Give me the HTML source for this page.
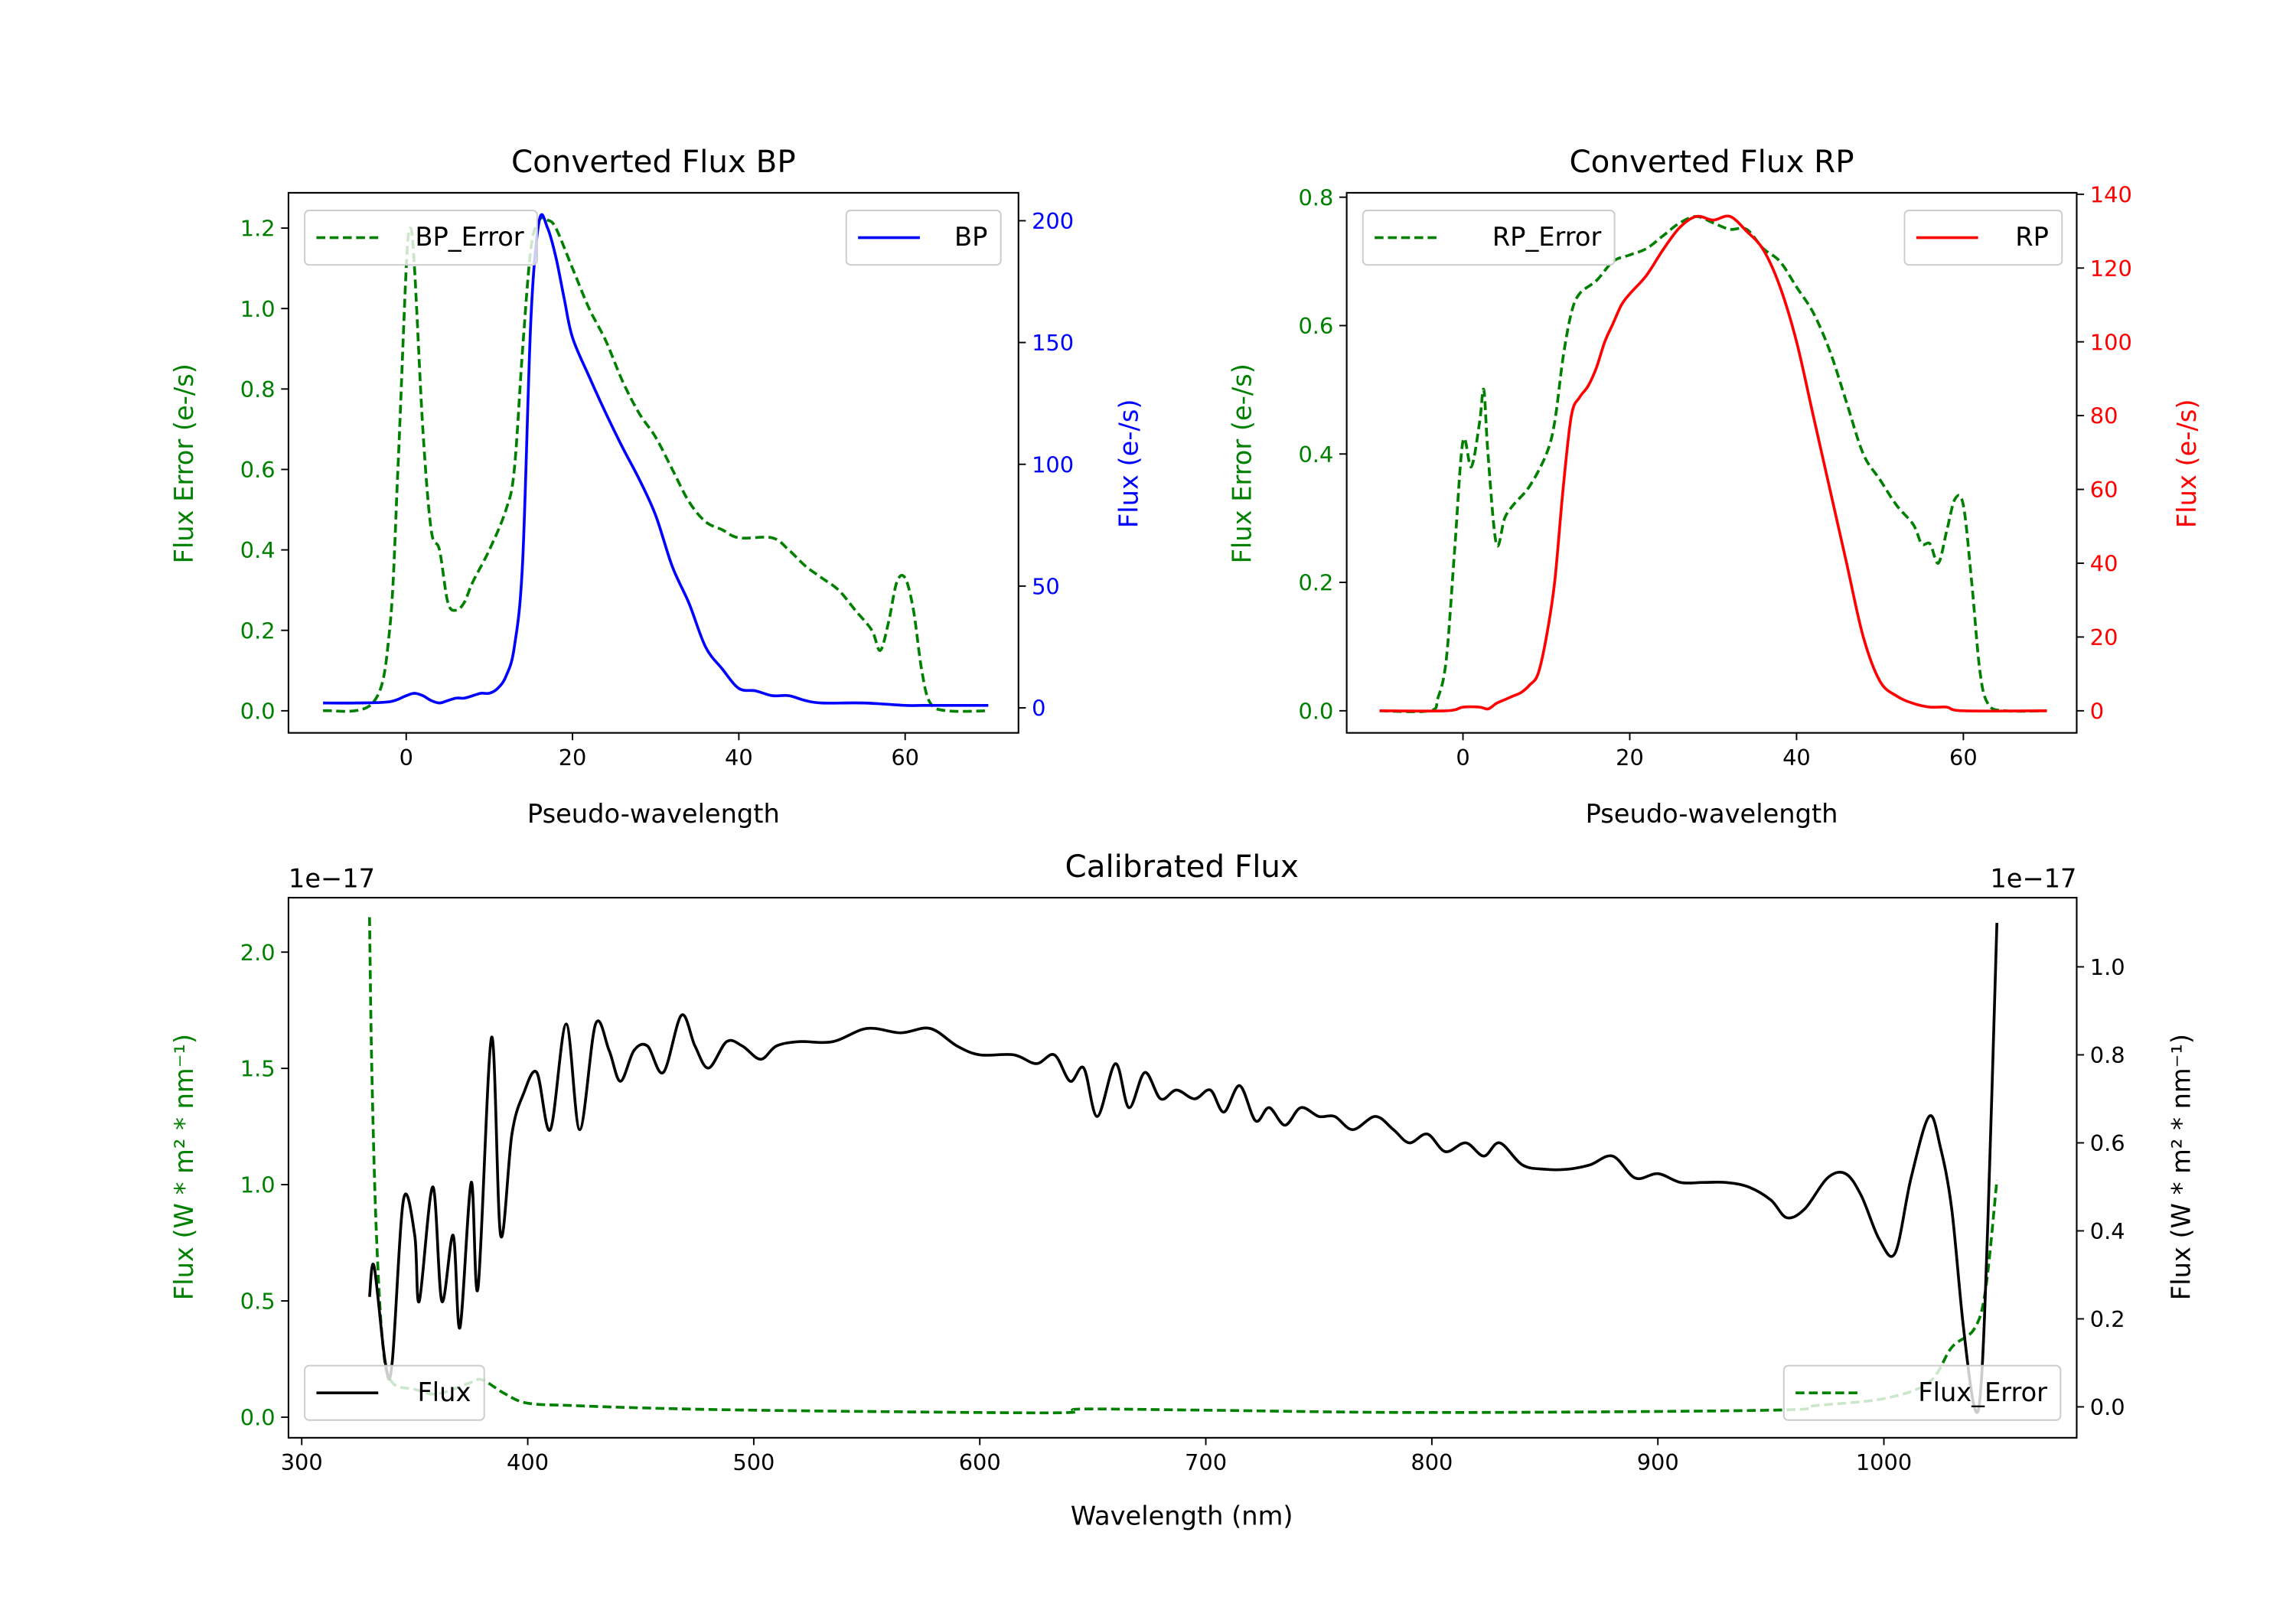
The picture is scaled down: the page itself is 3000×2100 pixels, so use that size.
<!DOCTYPE html>
<html><head><meta charset="utf-8"><style>
html,body{margin:0;padding:0;background:#fff}
svg{display:block;font-family:"DejaVu Sans","Liberation Sans",sans-serif}
</style></head><body>
<svg id="fig" width="3000" height="2100" viewBox="0 0 1560 1092" xmlns="http://www.w3.org/2000/svg"></svg>
<script>
// ---- data ----
const bpX=[-10,-6,-2,0,1,2,3,4,5,6,7,8,9,10,11,12,13,14,15,16,17,18,19,20,22,24,26,28,30,32,34,36,38,40,42,44,46,48,50,55,60,62,65,70];
const bpFlux=[2,2,2.5,5,6,5,3,2,3,4,4,5,6,6,8,13,25,60,160,200,197,185,168,152,136,121,107,94,79,58,43,25,16,8,7,5,5,3,2,2,1,1,1,1];
const bpErrX=[-10,-4,-2,-1,0,0.5,1,2,3,4,5,6,7,8,10,12,13,14,15,16,17,18,20,22,24,26,28,30,32,34,36,38,40,44,46,48,50,52,54,56,57,58,59,60,61,62,63,65,70];
const bpErr=[0,0.02,0.2,0.6,1.1,1.2,1.1,0.7,0.45,0.4,0.27,0.25,0.27,0.32,0.4,0.5,0.6,0.9,1.15,1.22,1.22,1.2,1.1,1.0,0.92,0.82,0.74,0.68,0.6,0.52,0.47,0.45,0.43,0.43,0.4,0.36,0.33,0.3,0.25,0.2,0.15,0.22,0.32,0.33,0.25,0.1,0.02,0,0];
const rpX=[-10,-2,0,2,3,4,5,6,7,8,9,10,11,12,13,14,15,16,17,18,19,20,22,24,26,28,30,32,34,36,38,40,42,44,46,48,50,52,54,56,58,60,70];
const rpFlux=[0,0,1,1,0.5,2,3,4,5,7,10,20,35,60,80,85,88,93,100,105,110,113,118,125,131,134,133,134,130,125,115,100,80,60,40,20,8,4,2,1,1,0,0];
const rpErrX=[-10,-4,-3,-2,-1,0,1,2,2.5,3,4,5,6,8,10,11,12,13,14,16,18,20,22,24,26,28,30,32,34,36,38,40,42,44,46,48,50,52,54,55,56,57,58,59,60,61,62,63,65,70];
const rpErr=[0,0,0.02,0.08,0.25,0.42,0.38,0.45,0.5,0.4,0.26,0.3,0.32,0.35,0.4,0.45,0.55,0.62,0.65,0.67,0.7,0.71,0.72,0.74,0.76,0.77,0.76,0.75,0.75,0.72,0.7,0.66,0.62,0.56,0.48,0.4,0.36,0.32,0.29,0.26,0.26,0.23,0.28,0.33,0.32,0.2,0.06,0.01,0,0];
const calX=[330,332,337,340,345,350,352,358,362,367,370,375,378,384,388,393,398,404,410,417,423,430,436,441,447,453,460,468,474,480,488,495,503,510,520,535,550,565,578,590,600,615,625,633,640,646,652,660,666,673,680,687,695,702,708,715,722,728,735,742,750,757,765,775,783,790,798,806,815,823,830,840,850,860,870,880,890,900,910,920,930,940,950,957,965,975,983,990,998,1005,1012,1020,1025,1030,1035,1040,1043,1046,1050];
const calFlux=[0.25,0.32,0.1,0.1,0.47,0.39,0.24,0.5,0.24,0.39,0.18,0.51,0.27,0.84,0.39,0.62,0.71,0.76,0.63,0.87,0.63,0.87,0.81,0.74,0.81,0.82,0.76,0.89,0.82,0.77,0.83,0.82,0.79,0.82,0.83,0.83,0.86,0.85,0.86,0.82,0.80,0.80,0.78,0.80,0.74,0.77,0.66,0.78,0.68,0.76,0.70,0.72,0.70,0.72,0.67,0.73,0.65,0.68,0.64,0.68,0.66,0.66,0.63,0.66,0.63,0.60,0.62,0.58,0.60,0.57,0.60,0.55,0.54,0.54,0.55,0.57,0.52,0.53,0.51,0.51,0.51,0.50,0.47,0.43,0.45,0.52,0.53,0.48,0.38,0.35,0.52,0.66,0.59,0.45,0.19,0.0,0.05,0.42,1.1];
const calErrX=[330,331,333,336,340,350,360,375,380,390,400,420,450,500,600,640,645,700,800,950,970,1000,1020,1030,1040,1045,1050];
const calErr=[2.15,1.5,0.8,0.3,0.15,0.12,0.1,0.15,0.16,0.1,0.06,0.05,0.04,0.03,0.02,0.02,0.035,0.03,0.02,0.03,0.05,0.08,0.15,0.3,0.38,0.55,1.02];
const pxTicks=[0,20,40,60];
const bpErrTicks=[0,0.2,0.4,0.6,0.8,1.0,1.2];
const bpFluxTicks=[0,50,100,150,200];
const rpErrTicks=[0,0.2,0.4,0.6,0.8];
const rpFluxTicks=[0,20,40,60,80,100,120,140];
const wlTicks=[300,400,500,600,700,800,900,1000];
const calErrTicks=[0,0.5,1.0,1.5,2.0];
const calFluxTicks=[0,0.2,0.4,0.6,0.8,1.0];

const NS="http://www.w3.org/2000/svg";
const svg=document.getElementById('fig');
const TF=15;
function el(tag,attrs,parent,txt){const e=document.createElementNS(NS,tag);for(const k in attrs)e.setAttribute(k,attrs[k]);if(txt!==undefined)e.textContent=txt;(parent||svg).appendChild(e);return e;}
function lin(d0,d1,r0,r1){return v=>r0+(v-d0)*(r1-r0)/(d1-d0);}
function line(xs,ys,sx,sy,color,dash,name,g){
  const P=xs.map((x,i)=>[sx(x),sy(ys[i])]);
  let d='M'+P[0][0].toFixed(2)+','+P[0][1].toFixed(2);
  for(let i=0;i<P.length-1;i++){
    const p0=P[Math.max(0,i-1)],p1=P[i],p2=P[i+1],p3=P[Math.min(P.length-1,i+2)];
    const t=0.5/3;
    const c1=[p1[0]+(p2[0]-p0[0])*t,p1[1]+(p2[1]-p0[1])*t];
    const c2=[p2[0]-(p3[0]-p1[0])*t,p2[1]-(p3[1]-p1[1])*t];
    d+=`C${c1[0].toFixed(2)},${c1[1].toFixed(2)} ${c2[0].toFixed(2)},${c2[1].toFixed(2)} ${p2[0].toFixed(2)},${p2[1].toFixed(2)}`;
  }
  const e=el('path',{d:d,fill:'none',stroke:color,'stroke-width':1.9,'stroke-linejoin':'round','stroke-dasharray':dash?'6,3':'none'},g);
  
  
}
function xaxis(ticks,sx,y,g,fmt){ticks.forEach(t=>{const x=sx(t);el('line',{x1:x,x2:x,y1:y,y2:y+5,stroke:'#000','stroke-width':1},g);el('text',{x:x,y:y+22,'text-anchor':'middle','font-size':TF},g,fmt?fmt(t):t);});}
function yaxis(ticks,sy,x,side,color,g,fmt){ticks.forEach(t=>{const y=sy(t);const d=side<0?-5:5;el('line',{x1:x,x2:x+d,y1:y,y2:y,stroke:'#000','stroke-width':1},g);el('text',{x:x+(side<0?-9:9),y:y+5.5,'text-anchor':side<0?'end':'start','font-size':TF,fill:color},g,fmt?fmt(t):t);});}
function frame(x0,y0,x1,y1,g){el('rect',{x:x0,y:y0,width:x1-x0,height:y1-y0,fill:'none',stroke:'#000','stroke-width':1.1},g);}
function legend(x,y,w,label,color,dash,name,g){
  const lg=el('g',{},g);
  el('rect',{x:x,y:y,width:w,height:37,rx:3,fill:'rgba(255,255,255,0.8)',stroke:'#ccc'},lg);
  el('line',{x1:x+8,x2:x+50,y1:y+18.5,y2:y+18.5,stroke:color,'stroke-width':1.9,'stroke-dasharray':dash?'6,3':'none'},lg);
  el('text',{x:x+w-9,y:y+24,'text-anchor':'end','font-size':17.5},lg,label);
}
function vlabel(x,y,txt,color,g){el('text',{x:x,y:y,'text-anchor':'middle','font-size':17.5,fill:color,transform:`rotate(-90 ${x} ${y})`},g,txt);}
const f1=v=>v.toFixed(1);

// ---- BP panel ----
{const g=el('g',{});
const sx=lin(0,60,276,615), sy=lin(0,1.2,483,155), sy2=lin(0,200,481,150);
line(bpErrX,bpErr,sx,sy,'#008000',true,'bp-error-line',g);
line(bpX,bpFlux,sx,sy2,'#0000ff',false,'bp-flux-line',g);
frame(196,131,692,498,g);
xaxis(pxTicks,sx,498,g);yaxis(bpErrTicks,sy,196,-1,'#008000',g,f1);yaxis(bpFluxTicks,sy2,692,1,'#0000ff',g);
legend(207,143,158,'BP_Error','#008000',true,'legend-bp-error',g);
legend(575,143,105,'BP','#0000ff',false,'legend-bp',g);
el('text',{x:444,y:117,'text-anchor':'middle','font-size':21},g,'Converted Flux BP');
el('text',{x:444,y:559,'text-anchor':'middle','font-size':17.5},g,'Pseudo-wavelength');
vlabel(131,315,'Flux Error (e-/s)','#008000',g);vlabel(773,315,'Flux (e-/s)','#0000ff',g);}

// ---- RP panel ----
{const g=el('g',{});
const sx=lin(0,60,994,1334), sy=lin(0,0.8,483,134), sy2=lin(0,140,483,132);
line(rpErrX,rpErr,sx,sy,'#008000',true,'rp-error-line',g);
line(rpX,rpFlux,sx,sy2,'#ff0000',false,'rp-flux-line',g);
frame(915,131,1411,498,g);
xaxis(pxTicks,sx,498,g);yaxis(rpErrTicks,sy,915,-1,'#008000',g,f1);yaxis(rpFluxTicks,sy2,1411,1,'#ff0000',g);
legend(926,143,171,'RP_Error','#008000',true,'legend-rp-error',g);
legend(1294,143,107,'RP','#ff0000',false,'legend-rp',g);
el('text',{x:1163,y:117,'text-anchor':'middle','font-size':21},g,'Converted Flux RP');
el('text',{x:1163,y:559,'text-anchor':'middle','font-size':17.5},g,'Pseudo-wavelength');
vlabel(850,315,'Flux Error (e-/s)','#008000',g);vlabel(1492,315,'Flux (e-/s)','#ff0000',g);}

// ---- Calibrated panel ----
{const g=el('g',{});
const sx=lin(300,1000,205,1280), sy=lin(0,2.0,963,647), sy2=lin(0,1.0,956,657);
line(calErrX,calErr,sx,sy,'#008000',true,'flux-error-line',g);
line(calX,calFlux,sx,sy2,'#000000',false,'flux-line',g);
frame(196,610,1411,977,g);
xaxis(wlTicks,sx,977,g);yaxis(calErrTicks,sy,196,-1,'#008000',g,f1);yaxis(calFluxTicks,sy2,1411,1,'#000',g,f1);
legend(207,928,122,'Flux','#000',false,'legend-flux',g);
legend(1212,928,188,'Flux_Error','#008000',true,'legend-flux-error',g);
el('text',{x:803,y:596,'text-anchor':'middle','font-size':21},g,'Calibrated Flux');
el('text',{x:803,y:1036,'text-anchor':'middle','font-size':17.5},g,'Wavelength (nm)');
el('text',{x:196,y:603,'font-size':17.5},g,'1e\u221217');
el('text',{x:1411,y:603,'text-anchor':'end','font-size':17.5},g,'1e\u221217');
vlabel(131,793,'Flux (W * m\u00b2 * nm\u207b\u00b9)','#008000',g);vlabel(1488,793,'Flux (W * m\u00b2 * nm\u207b\u00b9)','#000',g);}
</script>
</body></html>
